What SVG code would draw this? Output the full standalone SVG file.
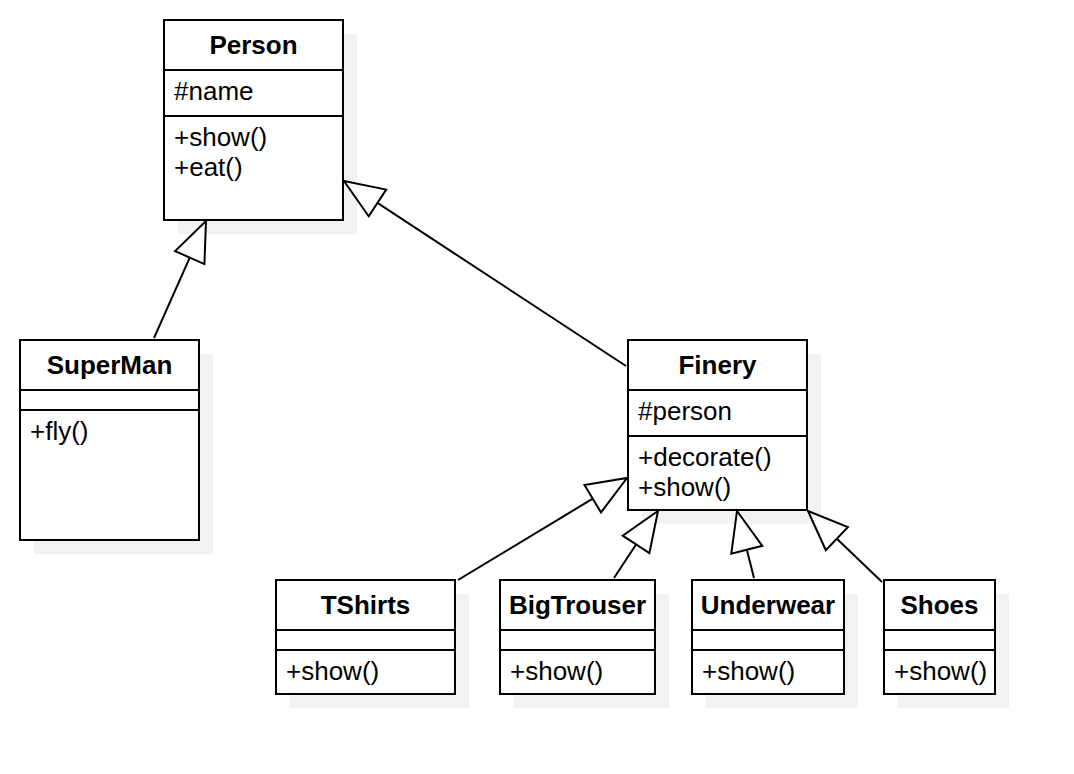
<svg xmlns="http://www.w3.org/2000/svg" width="1074" height="774" viewBox="0 0 1074 774">
<style>
.sh{fill:#f2f2f2;stroke:none}
.bx{fill:#fff;stroke:#000;stroke-width:2}
.dv{stroke:#000;stroke-width:2}
.t{font-family:"Liberation Sans",Arial,sans-serif;font-size:26px;font-weight:bold;text-anchor:middle;fill:#000}
.m{font-family:"Liberation Sans",Arial,sans-serif;font-size:26px;fill:#000}
.c{stroke:#000;stroke-width:2;fill:none}
.ah{fill:#fff;stroke:#000;stroke-width:2;stroke-linejoin:miter}
</style>
<rect width="1074" height="774" fill="#fff"/>
<g id="person">
<rect class="sh" x="178" y="34" width="179" height="200"/>
<rect class="bx" x="164" y="20" width="179" height="200"/>
<line class="dv" x1="164" y1="70" x2="343" y2="70"/>
<line class="dv" x1="164" y1="116" x2="343" y2="116"/>
<text class="t" x="253.5" y="54">Person</text>
<text class="m" x="174" y="100">#name</text>
<text class="m" x="174" y="146">+show()</text>
<text class="m" x="174" y="176">+eat()</text>
</g>
<g id="superman">
<rect class="sh" x="34" y="354" width="179" height="200"/>
<rect class="bx" x="20" y="340" width="179" height="200"/>
<line class="dv" x1="20" y1="390" x2="199" y2="390"/>
<line class="dv" x1="20" y1="410" x2="199" y2="410"/>
<text class="t" x="109.5" y="374">SuperMan</text>
<text class="m" x="30" y="440">+fly()</text>
</g>
<g id="finery">
<rect class="sh" x="642" y="354" width="179" height="170"/>
<rect class="bx" x="628" y="340" width="179" height="170"/>
<line class="dv" x1="628" y1="390" x2="807" y2="390"/>
<line class="dv" x1="628" y1="436" x2="807" y2="436"/>
<text class="t" x="717.5" y="374">Finery</text>
<text class="m" x="638" y="420">#person</text>
<text class="m" x="638" y="466">+decorate()</text>
<text class="m" x="638" y="496">+show()</text>
</g>
<g id="tshirts">
<rect class="sh" x="290" y="594" width="179" height="114"/>
<rect class="bx" x="276" y="580" width="179" height="114"/>
<line class="dv" x1="276" y1="630" x2="455" y2="630"/>
<line class="dv" x1="276" y1="650" x2="455" y2="650"/>
<text class="t" x="365.5" y="614">TShirts</text>
<text class="m" x="286" y="680">+show()</text>
</g>
<g id="bigtrouser">
<rect class="sh" x="514" y="594" width="155" height="114"/>
<rect class="bx" x="500" y="580" width="155" height="114"/>
<line class="dv" x1="500" y1="630" x2="655" y2="630"/>
<line class="dv" x1="500" y1="650" x2="655" y2="650"/>
<text class="t" x="577.5" y="614">BigTrouser</text>
<text class="m" x="510" y="680">+show()</text>
</g>
<g id="underwear">
<rect class="sh" x="706" y="594" width="152" height="114"/>
<rect class="bx" x="692" y="580" width="152" height="114"/>
<line class="dv" x1="692" y1="630" x2="844" y2="630"/>
<line class="dv" x1="692" y1="650" x2="844" y2="650"/>
<text class="t" x="768" y="614">Underwear</text>
<text class="m" x="702" y="680">+show()</text>
</g>
<g id="shoes">
<rect class="sh" x="898" y="594" width="111" height="114"/>
<rect class="bx" x="884" y="580" width="111" height="114"/>
<line class="dv" x1="884" y1="630" x2="995" y2="630"/>
<line class="dv" x1="884" y1="650" x2="995" y2="650"/>
<text class="t" x="939.5" y="614">Shoes</text>
<text class="m" x="894" y="680">+show()</text>
</g>
<g id="connectors">
<line class="c" x1="154" y1="338" x2="189.75" y2="257.56"/>
<polygon class="ah" points="206,221 204.4,264.1 175.1,251.1"/>
<line class="c" x1="626" y1="366" x2="377.44" y2="202.94"/>
<polygon class="ah" points="344,181 386.2,189.6 368.7,216.3"/>
<line class="c" x1="458" y1="580" x2="592.75" y2="498.67"/>
<polygon class="ah" points="627,478 601,512.4 584.5,485"/>
<line class="c" x1="614" y1="578" x2="636.04" y2="544.44"/>
<polygon class="ah" points="658,511 649.4,553.2 622.7,535.7"/>
<line class="c" x1="754" y1="578" x2="746.84" y2="549.77"/>
<polygon class="ah" points="737,511 762.3,545.8 731.3,553.7"/>
<line class="c" x1="882" y1="582" x2="836.86" y2="538.69"/>
<polygon class="ah" points="808,511 847.9,527.1 825.8,550.2"/>
</g>
</svg>
